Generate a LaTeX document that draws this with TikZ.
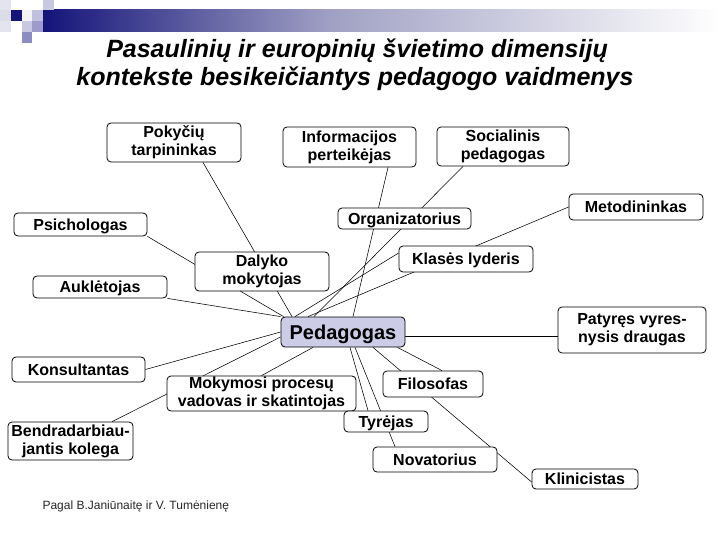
\documentclass[tikz,border=0pt]{standalone}
\usepackage{fontspec}
\setmainfont{Liberation Sans}
\usetikzlibrary{backgrounds}
\definecolor{navy}{HTML}{14147A}
\definecolor{midlav}{HTML}{A0A0C4}
\definecolor{pedfill}{HTML}{CCCCE6}
\definecolor{sqA}{HTML}{E4E4EE}
\definecolor{sqB}{HTML}{DCDCE8}
\definecolor{sqC}{HTML}{F4F4F8}
\definecolor{sqD}{HTML}{C0C0E0}
\definecolor{sqE}{HTML}{C8C8E0}
\definecolor{sqF}{HTML}{9C9CCC}
\definecolor{sqG}{HTML}{8C8CC0}
\begin{document}
\begin{tikzpicture}[x=1pt,y=-1pt,
  rolebox/.style={draw=black, line width=0.8pt, fill=white, rounded corners=4pt,
    inner sep=0pt, align=center, font=\bfseries\fontsize{16}{18}\selectfont},
  oneline/.style={text height=11.5pt, text depth=0pt},
  link/.style={draw=black, line width=0.55pt},
  titletext/.style={anchor=base, font=\bfseries\itshape\fontsize{25}{30}\selectfont}]
\useasboundingbox (0,0) rectangle (720,540);
% header decoration
\shade[left color=navy, right color=midlav] (43,10) rectangle (330,32);
\shade[left color=midlav, right color=white] (330,10) rectangle (720,32);
\fill[sqA] (0,0) rectangle (11,10);
\fill[sqB] (0,10) rectangle (11,21);
\fill[sqA] (0,21) rectangle (11,32);
\fill[navy] (11,10) rectangle (22,21);
\fill[sqC] (22,10) rectangle (32,21);
\fill[sqD] (32,10) rectangle (43,21);
\fill[sqE] (43,0) rectangle (54,10);
\fill[sqE] (22,21) rectangle (32,32);
\fill[sqF] (32,21) rectangle (43,32);
\fill[sqG] (22,32) rectangle (32,43);
% title
\node[titletext] (title1) at (357,58) {Pasaulinių ir europinių švietimo dimensijų};
\node[titletext] (title2) at (355,85.5) {kontekste besikeičiantys pedagogo vaidmenys};
% boxes
\node[rolebox, minimum width=134pt, minimum height=39pt] (pok) at (174,142.5) {Pokyčių\\tarpininkas};
\node[rolebox, minimum width=133pt, minimum height=40pt] (inf) at (349.5,147) {Informacijos\\perteikėjas};
\node[rolebox, minimum width=132pt, minimum height=39pt] (soc) at (503,146.5) {Socialinis\\pedagogas};
\node[rolebox, oneline, minimum width=133pt, minimum height=23pt] (psi) at (80.5,224.5) {Psichologas};
\node[rolebox, oneline, minimum width=133pt, minimum height=21pt] (org) at (404.5,218.5) {Organizatorius};
\node[rolebox, oneline, minimum width=134pt, minimum height=26pt] (met) at (636,207) {Metodininkas};
\node[rolebox, minimum width=134pt, minimum height=39pt] (dal) at (262,271.5) {Dalyko\\mokytojas};
\node[rolebox, oneline, minimum width=134pt, minimum height=26pt] (kla) at (466,259) {Klasės lyderis};
\node[rolebox, oneline, minimum width=134pt, minimum height=22pt] (auk) at (100,287) {Auklėtojas};
\node[rolebox, fill=pedfill, minimum width=124pt, minimum height=30pt,
  text height=14.5pt, text depth=0pt, font=\bfseries\fontsize{20}{24}\selectfont] (ped) at (343,332) {Pedagogas};
\node[rolebox, minimum width=148pt, minimum height=46pt] (pat) at (632,330) {Patyręs vyres-\\nysis draugas};
\node[rolebox, oneline, minimum width=133pt, minimum height=25pt] (kon) at (78.5,369.5) {Konsultantas};
\node[rolebox, minimum width=189pt, minimum height=35pt] (mok) at (261.5,393.5) {Mokymosi procesų\\vadovas ir skatintojas};
\node[rolebox, oneline, minimum width=100pt, minimum height=26pt] (fil) at (433,384) {Filosofas};
\node[rolebox, oneline, minimum width=84pt, minimum height=21pt] (tyr) at (386,421.5) {Tyrėjas};
\node[rolebox, minimum width=125pt, minimum height=38pt] (ben) at (70.5,441) {Bendradarbiau-\\jantis kolega};
\node[rolebox, oneline, minimum width=124pt, minimum height=25pt] (nov) at (435,459.5) {Novatorius};
\node[rolebox, oneline, minimum width=106pt, minimum height=20pt] (kli) at (585,479) {Klinicistas};
% footer
\node[anchor=west, text=black!85, font=\fontsize{12}{14}\selectfont] (src) at (39,506) {Pagal B.Janiūnaitę ir V. Tumėnienę};
% connectors
\begin{pgfonlayer}{background}
\draw[link] ([xshift=29pt]pok.south) -- ([xshift=-51pt]ped.north);
\draw[link] (psi.south east) -- ([xshift=3pt]ped.north west);
\draw[link] (auk.south east) -- (ped.north west);
\draw[link] (kon.east) -- (ped.west);
\draw[link] ([xshift=41.5pt]ben.north) -- ([yshift=-5pt]ped.west);
\draw[link] (mok.north) -- ([xshift=-30pt]ped.south);
\draw[link] ([xshift=38.5pt]inf.south) -- ([xshift=10pt]ped.north);
\draw[link] ([xshift=-40pt]soc.south) -- ([xshift=-29pt]ped.north);
\draw[link] ([yshift=6pt]kla.west) -- ([xshift=-48pt]ped.north);
\draw[link] (met.west) -- ([xshift=-35pt]ped.north);
\draw[link] ([yshift=-6pt]pat.west) -- ([yshift=-4pt]ped.east);
\draw[link] ([xshift=9pt]fil.north) -- ([xshift=-8pt]ped.south east);
\draw[link] ([yshift=-3pt]kli.west) -- ([xshift=30pt]ped.south);
\draw[link] ([xshift=-18pt]tyr.north) -- ([xshift=7pt]ped.south);
\draw[link] ([xshift=-40pt]nov.north) -- ([xshift=12pt]ped.south);
\end{pgfonlayer}
\end{tikzpicture}
\end{document}
